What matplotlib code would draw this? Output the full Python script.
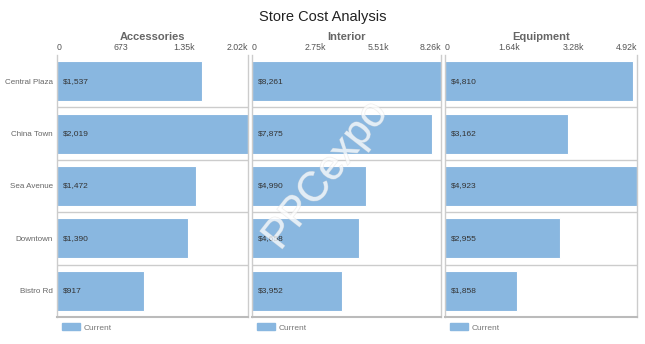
import numpy as np
import matplotlib.pyplot as plt
import matplotlib.patheffects as pe

plt.rcParams["font.family"] = ["Liberation Sans", "DejaVu Sans"]

stores = ["Central Plaza", "China Town", "Sea Avenue", "Downtown", "Bistro Rd"]
panels = ["Accessories", "Interior", "Equipment"]
accessories = [1537, 2019, 1472, 1390, 917]
interior = [8261, 7875, 4990, 4658, 3952]
equipment = [4810, 3162, 4923, 2955, 1858]
values = [accessories, interior, equipment]
series_name = "Current"

bar_color = "#89b7e0"
grid_color = "#cccccc"
text_gray = "#666666"


def fmt_tick(v):
    if v == 0:
        return "0"
    if v >= 1000:
        return "%.2fk" % (v / 1000)
    return "%d" % round(v)


fig = plt.figure(figsize=(6.45, 3.44), dpi=100)
fig.text(0.5, 0.95, "Store Cost Analysis", ha="center", va="center",
         fontsize=10.5, color="#222222")

lefts = [57, 252, 445]
widths = [191, 189, 192]
top, bottom = 55, 317
W, H = 645, 344

y = np.arange(len(stores))
for i in range(len(panels)):
    ax = fig.add_axes([lefts[i] / W, 1 - bottom / H, widths[i] / W, (bottom - top) / H])
    vals = values[i]
    vmax = max(vals)
    ax.barh(y, vals, height=0.76, color=bar_color, edgecolor="white", linewidth=0.8, zorder=2)
    ax.set_xlim(0, vmax)
    ax.set_ylim(len(stores) - 0.5, -0.5)

    for j, v in enumerate(vals):
        ax.annotate("${:,}".format(v), (0, j), xytext=(4, 0), textcoords="offset points",
                    va="center", ha="left", fontsize=6, color="#333333", zorder=3)

    # row separators
    for j in range(1, len(stores)):
        ax.axhline(j - 0.5, color=grid_color, linewidth=1, zorder=1)

    ax.spines["top"].set_visible(False)
    for s in ["left", "right"]:
        ax.spines[s].set_color(grid_color)
        ax.spines[s].set_linewidth(1)
    ax.spines["bottom"].set_color("#bbbbbb")
    ax.spines["bottom"].set_linewidth(1.5)

    ticks = [vmax * k / 3 for k in range(4)]
    ax.xaxis.tick_top()
    ax.set_xticks(ticks)
    ax.set_xticklabels([fmt_tick(t) for t in ticks], fontsize=6.3, color="#555555")
    ax.tick_params(axis="x", length=0, pad=2)
    labels = ax.get_xticklabels()
    labels[0].set_ha("left")
    labels[-1].set_ha("right")

    if i == 0:
        ax.set_yticks(y)
        ax.set_yticklabels(stores, fontsize=5.8, color=text_gray)
        ax.tick_params(axis="y", length=0, pad=3)
    else:
        ax.set_yticks([])

    ax.set_title(panels[i], fontsize=8, fontweight="bold", color=text_gray, pad=11)

    # legend below each panel
    ax.legend([plt.Rectangle((0, 0), 1, 1, color=bar_color)], [series_name],
              loc="upper left", bbox_to_anchor=(0.0, -0.005), frameon=False,
              fontsize=6, handlelength=2.2, handleheight=0.9, handletextpad=0.4,
              labelcolor="#777777", borderaxespad=0.2)

fig.text(0.505, 0.49, "PPCexpo", rotation=52, ha="center", va="center",
         fontsize=30, color="white", alpha=0.5,
         path_effects=[pe.withStroke(linewidth=0.7, foreground="#dddddd")])

fig.savefig("out.png", dpi=100)
